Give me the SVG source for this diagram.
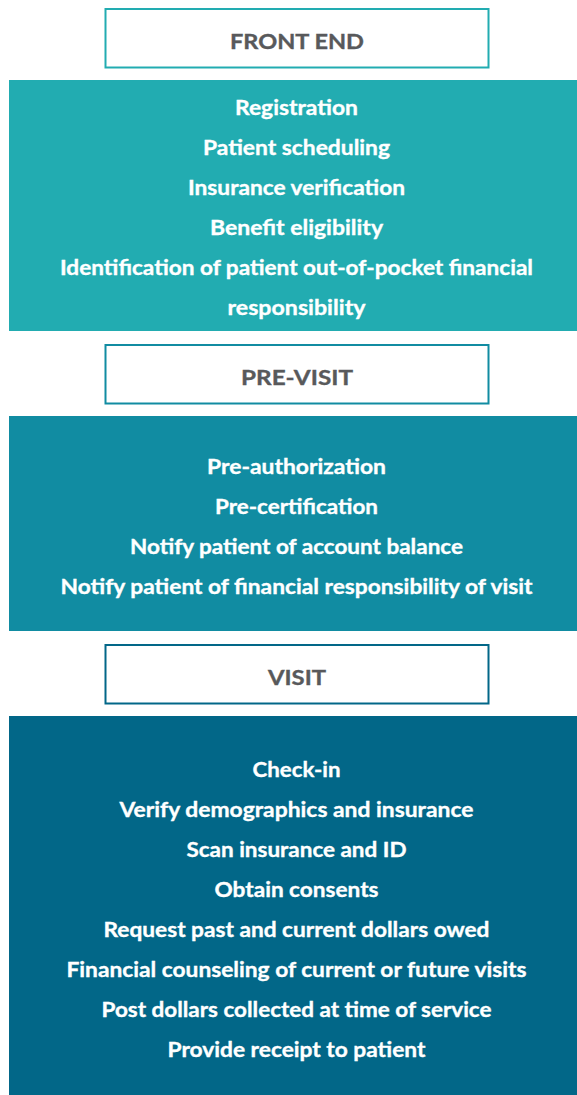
<svg xmlns="http://www.w3.org/2000/svg" width="577" height="1095" viewBox="0 0 577 1095">
  <style>
    .hdr { fill: #ffffff; stroke-width: 2; }
    .hdr-t { font-family: Lato, "Liberation Sans", sans-serif; font-weight: 700; font-size: 21px; fill: #58595b; stroke: #58595b; stroke-width: 0.35px; text-anchor: middle; }
    .item { font-family: Lato, "Liberation Sans", sans-serif; font-weight: 700; font-size: 21px; fill: #ffffff; stroke: #ffffff; stroke-width: 0.35px; text-anchor: middle; }
    .c1 { fill: #22acb1; }
    .c2 { fill: #118ca2; }
    .c3 { fill: #026788; }
  </style>
  <rect width="577" height="1095" fill="#ffffff"/>

  <!-- Stage 1: front end -->
  <g id="front-end-header">
    <rect class="hdr" x="105.5" y="9" width="383" height="58.5" stroke="#22acb1"/>
    <text class="hdr-t" x="297" y="48.5" textLength="134" lengthAdjust="spacingAndGlyphs">FRONT END</text>
  </g>
  <g id="front-end-tasks">
    <rect class="c1" x="9" y="80" width="576" height="251"/>
    <text class="item" x="296.5" y="115" textLength="123" lengthAdjust="spacingAndGlyphs">Registration</text>
    <text class="item" x="296.5" y="155" textLength="187" lengthAdjust="spacingAndGlyphs">Patient scheduling</text>
    <text class="item" x="296.5" y="195" textLength="217" lengthAdjust="spacingAndGlyphs">Insurance verification</text>
    <text class="item" x="296.5" y="235" textLength="173" lengthAdjust="spacingAndGlyphs">Benefit eligibility</text>
    <text class="item" x="296.5" y="275" textLength="473" lengthAdjust="spacingAndGlyphs">Identification of patient out-of-pocket financial</text>
    <text class="item" x="296.5" y="315" textLength="138" lengthAdjust="spacingAndGlyphs">responsibility</text>
  </g>

  <!-- Stage 2: pre-visit -->
  <g id="pre-visit-header">
    <rect class="hdr" x="105.5" y="345" width="383" height="58.5" stroke="#118ca2"/>
    <text class="hdr-t" x="297" y="384.5" textLength="112" lengthAdjust="spacingAndGlyphs">PRE-VISIT</text>
  </g>
  <g id="pre-visit-tasks">
    <rect class="c2" x="9" y="416" width="576" height="215"/>
    <text class="item" x="296.5" y="474" textLength="179" lengthAdjust="spacingAndGlyphs">Pre-authorization</text>
    <text class="item" x="296.5" y="514" textLength="163" lengthAdjust="spacingAndGlyphs">Pre-certification</text>
    <text class="item" x="296.5" y="554" textLength="333" lengthAdjust="spacingAndGlyphs">Notify patient of account balance</text>
    <text class="item" x="296.5" y="594" textLength="472" lengthAdjust="spacingAndGlyphs">Notify patient of financial responsibility of visit</text>
  </g>

  <!-- Stage 3: visit -->
  <g id="visit-header">
    <rect class="hdr" x="105.5" y="645" width="383" height="58.5" stroke="#026788"/>
    <text class="hdr-t" x="297" y="684.5" textLength="58" lengthAdjust="spacingAndGlyphs">VISIT</text>
  </g>
  <g id="visit-tasks">
    <rect class="c3" x="9" y="716" width="576" height="379"/>
    <text class="item" x="296.5" y="777" textLength="88" lengthAdjust="spacingAndGlyphs">Check-in</text>
    <text class="item" x="296.5" y="817" textLength="354" lengthAdjust="spacingAndGlyphs">Verify demographics and insurance</text>
    <text class="item" x="296.5" y="857" textLength="220" lengthAdjust="spacingAndGlyphs">Scan insurance and ID</text>
    <text class="item" x="296.5" y="897" textLength="164" lengthAdjust="spacingAndGlyphs">Obtain consents</text>
    <text class="item" x="296.5" y="937" textLength="386" lengthAdjust="spacingAndGlyphs">Request past and current dollars owed</text>
    <text class="item" x="296.5" y="977" textLength="460" lengthAdjust="spacingAndGlyphs">Financial counseling of current or future visits</text>
    <text class="item" x="296.5" y="1017" textLength="390" lengthAdjust="spacingAndGlyphs">Post dollars collected at time of service</text>
    <text class="item" x="296.5" y="1057" textLength="258" lengthAdjust="spacingAndGlyphs">Provide receipt to patient</text>
  </g>
</svg>
